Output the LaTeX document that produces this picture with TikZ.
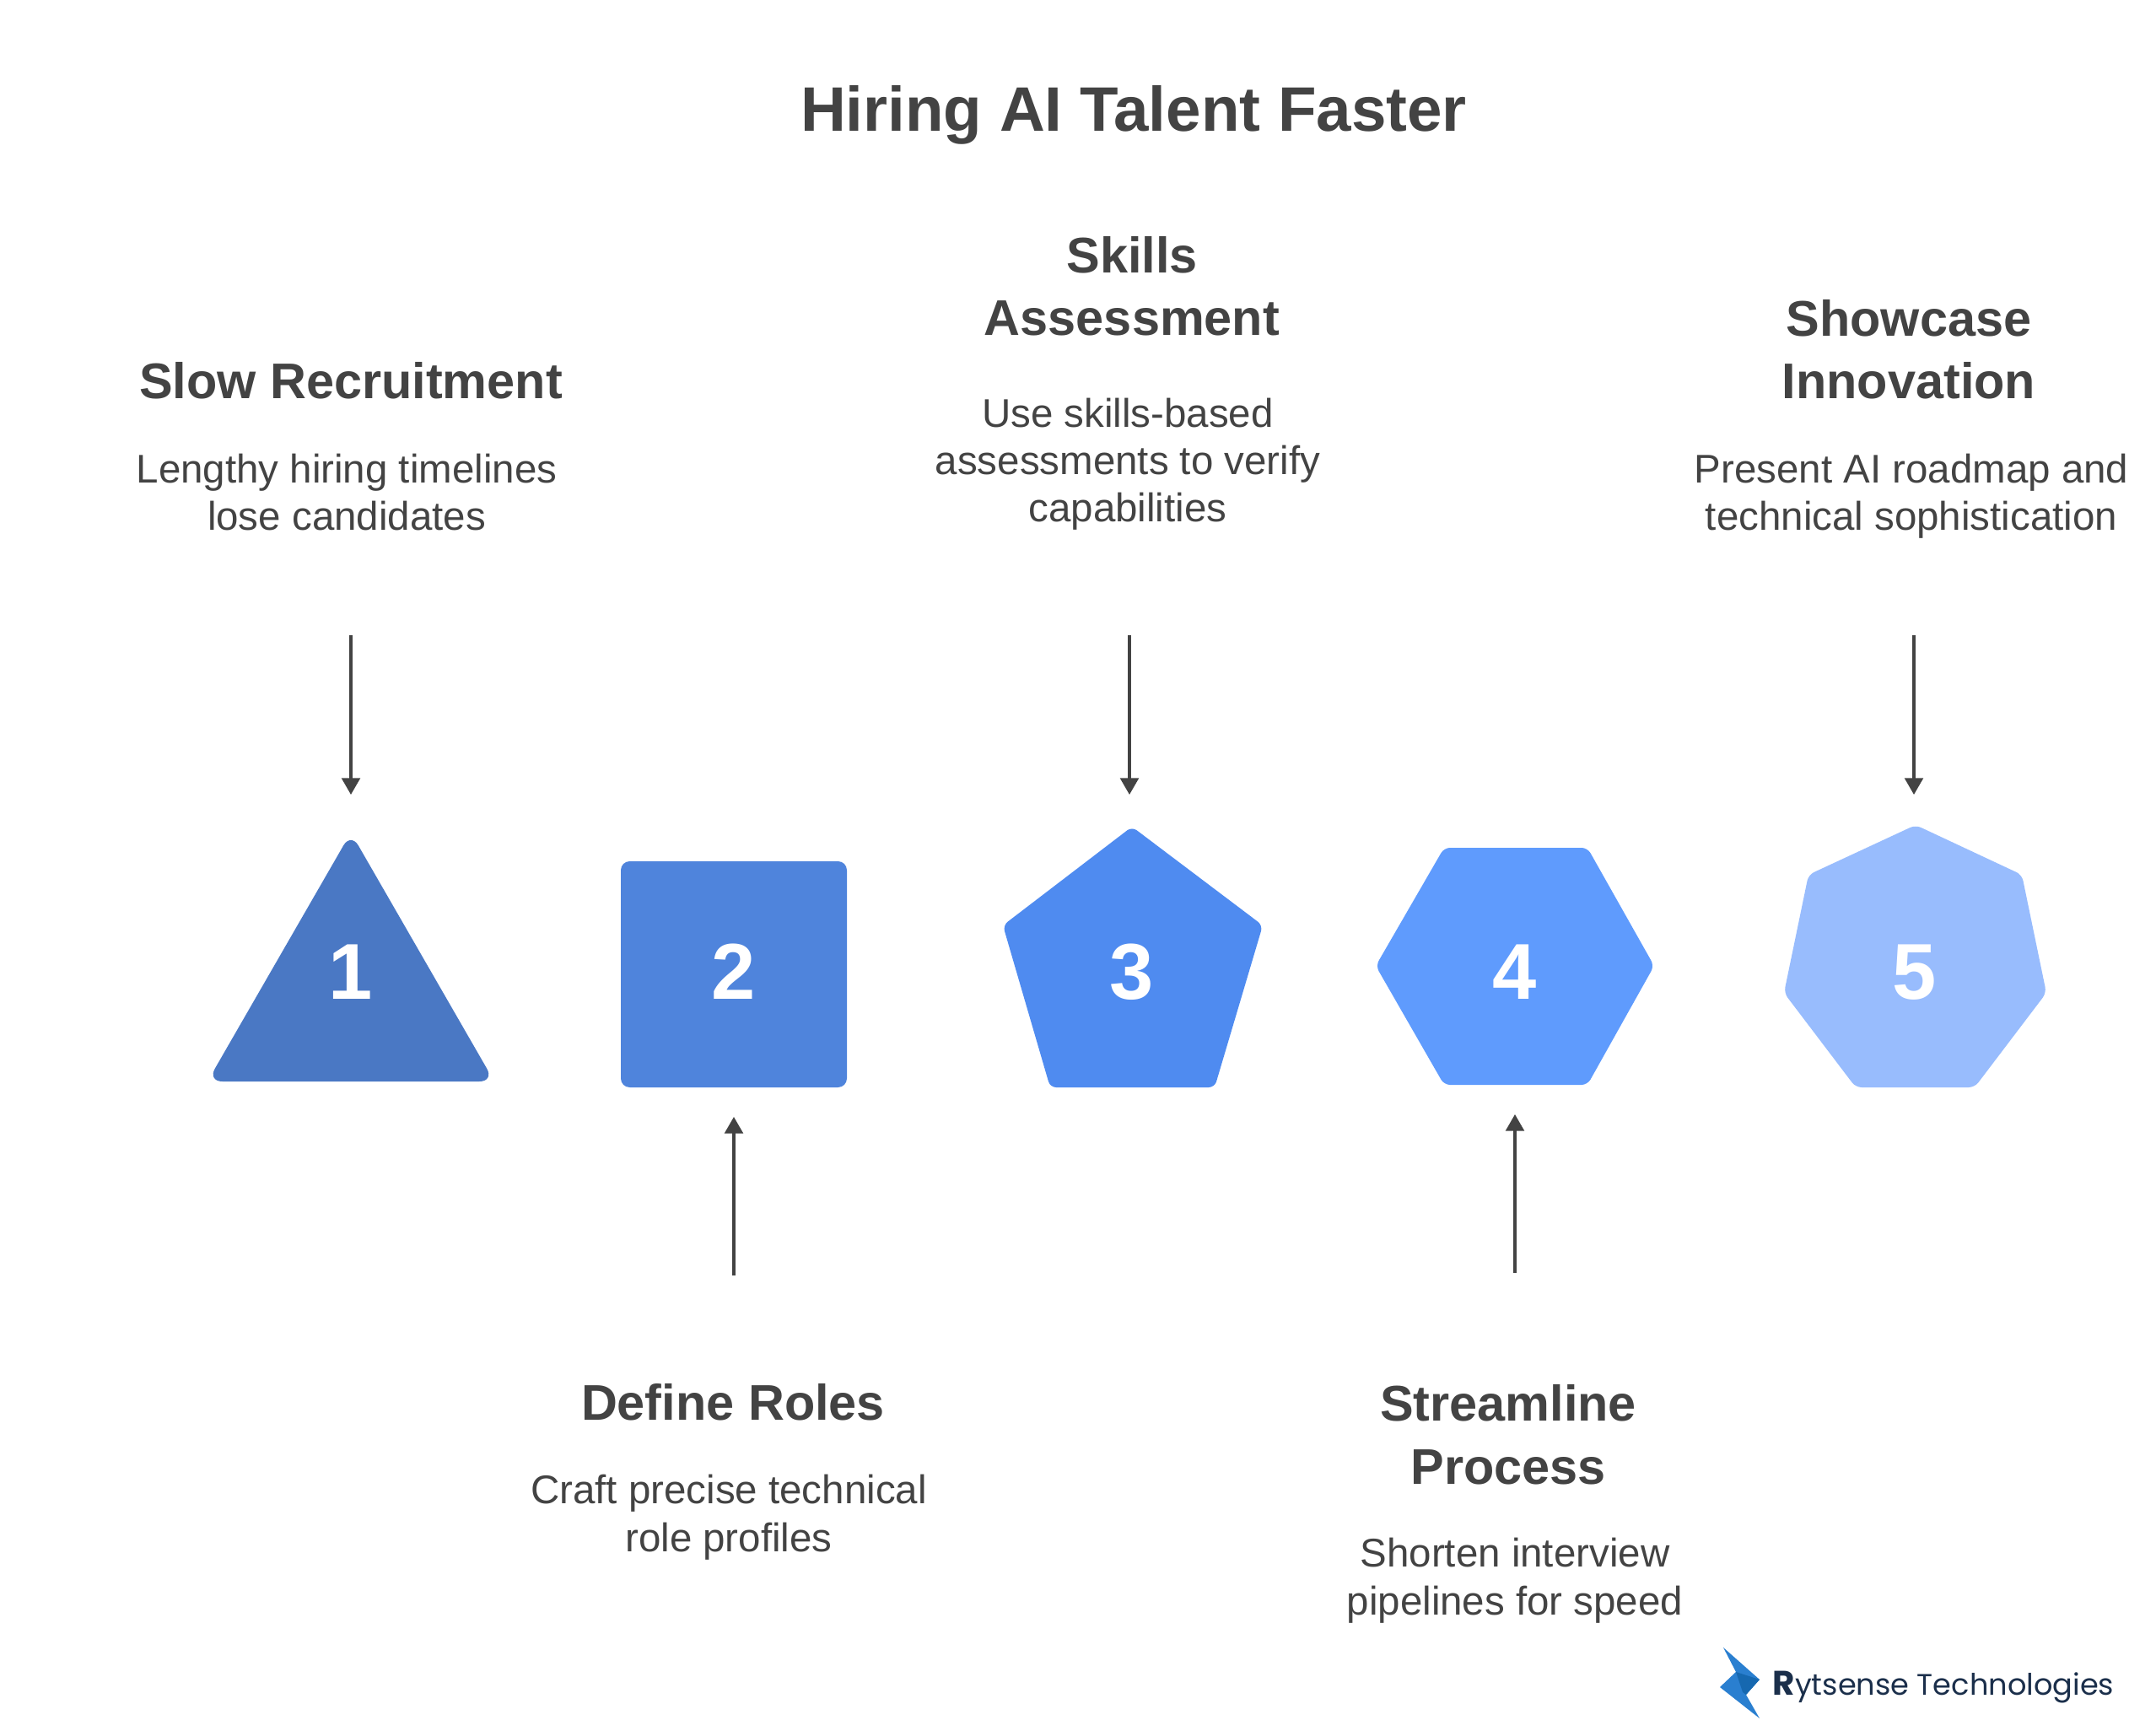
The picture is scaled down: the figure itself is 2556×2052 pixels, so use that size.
\documentclass[tikz,border=0pt]{standalone}
\usepackage{fontspec}
\setmainfont{Liberation Sans}
\newfontfamily\logofont{Poppins}
\usetikzlibrary{arrows.meta}
\definecolor{ink}{HTML}{434343}
\definecolor{navy}{HTML}{1B2F4B}
\definecolor{cA}{HTML}{4A78C4}
\definecolor{cB}{HTML}{4F84DC}
\definecolor{cC}{HTML}{4F8BF0}
\definecolor{cD}{HTML}{5F9BFD}
\definecolor{cE}{HTML}{98BCFD}
\definecolor{boltA}{HTML}{2A7FD0}
\definecolor{boltB}{HTML}{1668B0}
\tikzset{
  x=0.01cm,y=-0.01cm,
  titletext/.style={inner sep=0pt,anchor=base,text=ink,font=\fontsize{21.2}{24}\selectfont\bfseries},
  headtext/.style={inner sep=0pt,anchor=base,text=ink,align=center,font=\fontsize{16.9}{21.3}\selectfont\bfseries},
  bodytext/.style={inner sep=0pt,anchor=base,text=ink,align=center,font=\fontsize{13.5}{16}\selectfont},
  numtext/.style={inner sep=0pt,anchor=base,text=white,font=\fontsize{26.7}{30}\selectfont\bfseries},
  shapefill/.style={rounded corners=2pt},
  connector/.style={draw=ink,line width=0.9pt,-{Stealth[length=5.6pt,width=6.2pt,inset=0pt]}},
}
\begin{document}
\begin{tikzpicture}
\useasboundingbox (0,0) rectangle (2556,2052);
\node[titletext] (title) at (1344,156) {Hiring AI Talent Faster};

% shapes
\fill[cA,rounded corners=5pt] (416,987) -- (586,1282) -- (246,1282) -- cycle;
\fill[cB,rounded corners=3pt] (736,1021) rectangle (1004,1289);
\fill[cC,shapefill] (1342,980) -- (1497,1097) -- (1440,1289) -- (1245,1289) -- (1189,1097) -- cycle;
\fill[cD,shapefill] (1712,1005) -- (1882,1005) -- (1961,1145) -- (1882,1286) -- (1712,1286) -- (1631,1145) -- cycle;
\fill[cE,shapefill] (2271,978) -- (2397,1037) -- (2426,1177) -- (2341,1289) -- (2200,1289) -- (2115,1177) -- (2144,1037) -- cycle;

\node[numtext] (n1) at (416,1184) {1};
\node[numtext] (n2) at (870,1184) {2};
\node[numtext] (n3) at (1342,1184) {3};
\node[numtext] (n4) at (1796,1184) {4};
\node[numtext] (n5) at (2270,1184) {5};

% labels
\node[headtext] (h1) at (416,473) {Slow Recruitment};
\node[bodytext] (b1) at (411,629) {Lengthy hiring timelines\\lose candidates};
\node[headtext] (h2) at (869,1683) {Define Roles};
\node[bodytext] (b2) at (864,1839) {Craft precise technical\\role profiles};
\node[headtext] (h3) at (1342,398) {Skills\\Assessment};
\node[bodytext] (b3) at (1337,619) {Use skills-based\\assessments to verify\\capabilities};
\node[headtext] (h4) at (1788,1759) {Streamline\\Process};
\node[bodytext] (b4) at (1796,1914) {Shorten interview\\pipelines for speed};
\node[headtext] (h5) at (2263,473) {Showcase\\Innovation};
\node[bodytext] (b5) at (2266,629) {Present AI roadmap and\\technical sophistication};

% connectors
\coordinate (a1s) at (416,753); \coordinate (a1e) at (416,942);
\coordinate (a2s) at (870,1512); \coordinate (a2e) at (870,1324);
\coordinate (a3s) at (1339,753); \coordinate (a3e) at (1339,942);
\coordinate (a4s) at (1796,1509); \coordinate (a4e) at (1796,1321);
\coordinate (a5s) at (2269,753); \coordinate (a5e) at (2269,942);
\draw[connector] (a1s) -- (a1e);
\draw[connector] (a2s) -- (a2e);
\draw[connector] (a3s) -- (a3e);
\draw[connector] (a4s) -- (a4e);
\draw[connector] (a5s) -- (a5e);

% logo
\fill[boltA] (2043,1953) -- (2086,1991) -- (2070,2009) -- (2086,2037) -- (2039,2000) -- (2058,1982) -- cycle;
\fill[boltB] (2058,1982) -- (2086,1991) -- (2070,2009) -- (2066,2006) -- cycle;
\node[inner sep=0pt,anchor=base west,text=navy,font=\fontsize{10}{12}\selectfont\logofont] (logo) at (2101,2009) {{\bfseries\fontsize{11.5}{12}\selectfont R}ytsense Technologies};
\end{tikzpicture}
\end{document}
